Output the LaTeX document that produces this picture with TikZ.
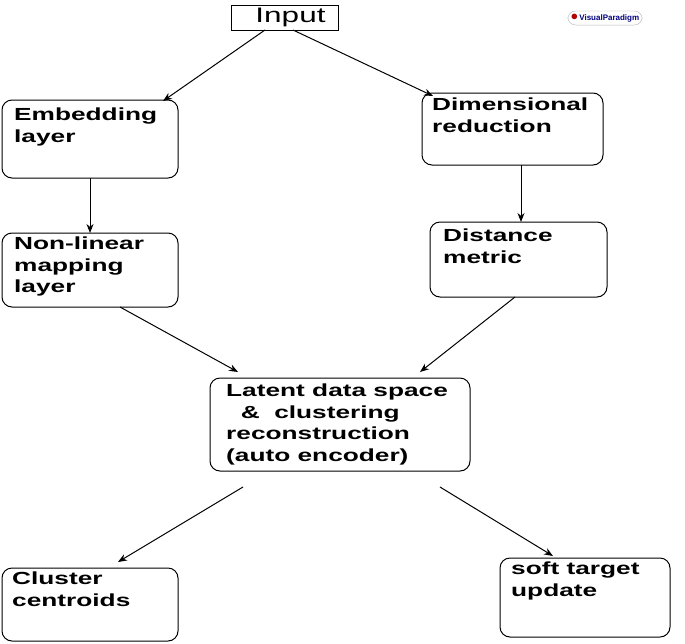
\documentclass[tikz,border=0pt]{standalone}
\usepackage{fontspec}
\usetikzlibrary{arrows.meta}
\setmainfont{Liberation Sans}
\newfontfamily\widefont[FakeStretch=1.5]{Liberation Sans}
\begin{document}
\begin{tikzpicture}[x=1pt,y=-1pt,
 box/.style={draw,rounded corners=10pt,line width=1pt},
 lbl/.style={anchor=north west,align=left,font=\widefont\bfseries\fontsize{17.5}{21.5}\selectfont,inner sep=0pt},
 arr/.style={-{Stealth[length=9pt,width=7pt]},line width=1pt}]
\useasboundingbox (0,0) rectangle (685,643);
\node[draw,line width=1pt,minimum width=107pt,minimum height=25pt,font=\widefont\fontsize{21}{24}\selectfont,inner sep=0pt] (in) at (284.5,17.5) {\hspace*{12pt}Input};
\node[draw=gray!60,rounded corners=8pt,fill=white,font=\fontsize{8}{9}\selectfont\bfseries,text=blue!50!black,inner sep=3pt] (vp) at (605,18) {\textcolor{red!70!black}{\Large$\bullet$}\,VisualParadigm};
\draw[box] (2,100) rectangle (178,178);
\node[lbl] (e) at (14,108) {Embedding\\layer};
\draw[box] (422,93) rectangle (603,165);
\node[lbl] (d) at (432,98) {Dimensional\\reduction};
\draw[box] (2,233) rectangle (178,307);
\node[lbl] (n) at (14,237) {Non-linear\\mapping\\layer};
\draw[box] (430,222) rectangle (607,297);
\node[lbl] (m) at (443,229) {Distance\\metric};
\draw[box] (210,378) rectangle (470,471);
\node[lbl,align=left] (l) at (226,384) {Latent data space\\\ \ \&\ \ clustering\\reconstruction\\(auto encoder)};
\draw[box] (2,568) rectangle (178,641);
\node[lbl] (c) at (12,572) {Cluster\\centroids};
\draw[box] (500,558) rectangle (670,637);
\node[lbl] (s) at (511,562) {soft target\\update};
\coordinate (a1) at (265,30); \coordinate (b1) at (163,101);
\coordinate (a2) at (293,30); \coordinate (b2) at (433,96);
\coordinate (a3) at (90,178); \coordinate (b3) at (90,233);
\coordinate (a4) at (521,165); \coordinate (b4) at (521,222);
\coordinate (a5) at (120,307); \coordinate (b5) at (238,372);
\coordinate (a6) at (515,297); \coordinate (b6) at (420,372);
\coordinate (a7) at (243,487); \coordinate (b7) at (118,562);
\coordinate (a8) at (440,487); \coordinate (b8) at (553,556);
\foreach \i in {1,...,8} \draw[arr] (a\i) -- (b\i);
\end{tikzpicture}
\end{document}
